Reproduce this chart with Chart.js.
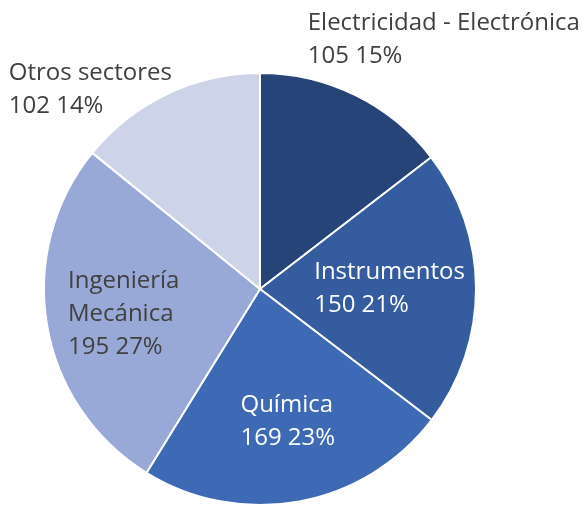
<!DOCTYPE html>
<html>
<head>
<meta charset="utf-8">
<script src="https://cdn.jsdelivr.net/npm/chart.js@4"></script>
<style>
  html, body { margin: 0; padding: 0; background: #fff; }
  #wrap { width: 586px; height: 505px; }
</style>
</head>
<body>
<div id="wrap"><canvas id="pie" width="586" height="505"></canvas></div>
<script>
// ── Data ──────────────────────────────────────────────────────────────
const SECTORS = ['Electricidad - Electrónica', 'Instrumentos', 'Química', 'Ingeniería Mecánica', 'Otros sectores'];
const LABEL_LINES = [['Electricidad - Electrónica'], ['Instrumentos'], ['Química'], ['Ingeniería', 'Mecánica'], ['Otros sectores']];
const COUNTS = [105, 150, 169, 195, 102];

const SLICE_COLORS = ['#264478', '#355C9F', '#3E6AB5', '#98A9D7', '#CDD3E8'];
const LABEL_COLORS = ['#404040', '#FFFFFF', '#FFFFFF', '#404040', '#404040'];
// label placement: distance (fraction of radius) and turn (deg) from slice mid-angle
const LABEL_DIST = [1.44, 0.60, 0.62, 0.64, 1.22];
const LABEL_TURN = [10, -1, -1.5, 0, -14.6];

const FONT = '24px "Open Sans", sans-serif';
const LINE_H = 33;

// Custom plugin: left-aligned multi-line data labels
const dataLabelPlugin = {
    id: 'pieLabels',
    afterDatasetsDraw(chart) {
        const { ctx } = chart;
        const meta = chart.getDatasetMeta(0);
        const total = COUNTS.reduce((a, b) => a + b, 0);
        ctx.save();
        ctx.font = FONT;
        ctx.textBaseline = 'middle';
        ctx.textAlign = 'left';
        meta.data.forEach((arc, i) => {
            const { x, y, startAngle, endAngle, outerRadius } = arc.getProps(['x', 'y', 'startAngle', 'endAngle', 'outerRadius'], true);
            const mid = (startAngle + endAngle) / 2 + LABEL_TURN[i] * Math.PI / 180;
            const r = outerRadius * LABEL_DIST[i];
            const cx = x + Math.cos(mid) * r;
            const cy = y + Math.sin(mid) * r;
            const pct = Math.round(COUNTS[i] / total * 100);
            const lines = [...LABEL_LINES[i], `${COUNTS[i]} ${pct}%`];
            const w = Math.max(...lines.map(l => ctx.measureText(l).width));
            const h = (lines.length - 1) * LINE_H;
            ctx.fillStyle = LABEL_COLORS[i];
            lines.forEach((l, k) => {
                ctx.fillText(l, cx - w / 2, cy - h / 2 + k * LINE_H + 2);
            });
        });
        ctx.restore();
    }
};

new Chart(document.getElementById('pie'), {
    type: 'pie',
    plugins: [dataLabelPlugin],
    data: {
        labels: SECTORS,
        datasets: [{
            data: COUNTS,
            backgroundColor: SLICE_COLORS,
            borderColor: '#FFFFFF',
            borderWidth: 2
        }]
    },
    options: {
        responsive: false,
        animation: false,
        radius: 216,
        layout: { padding: { left: 0, right: 66, top: 73, bottom: 0 } },
        plugins: {
            legend: { display: false },
            tooltip: { enabled: false }
        }
    }
});
</script>
</body>
</html>
